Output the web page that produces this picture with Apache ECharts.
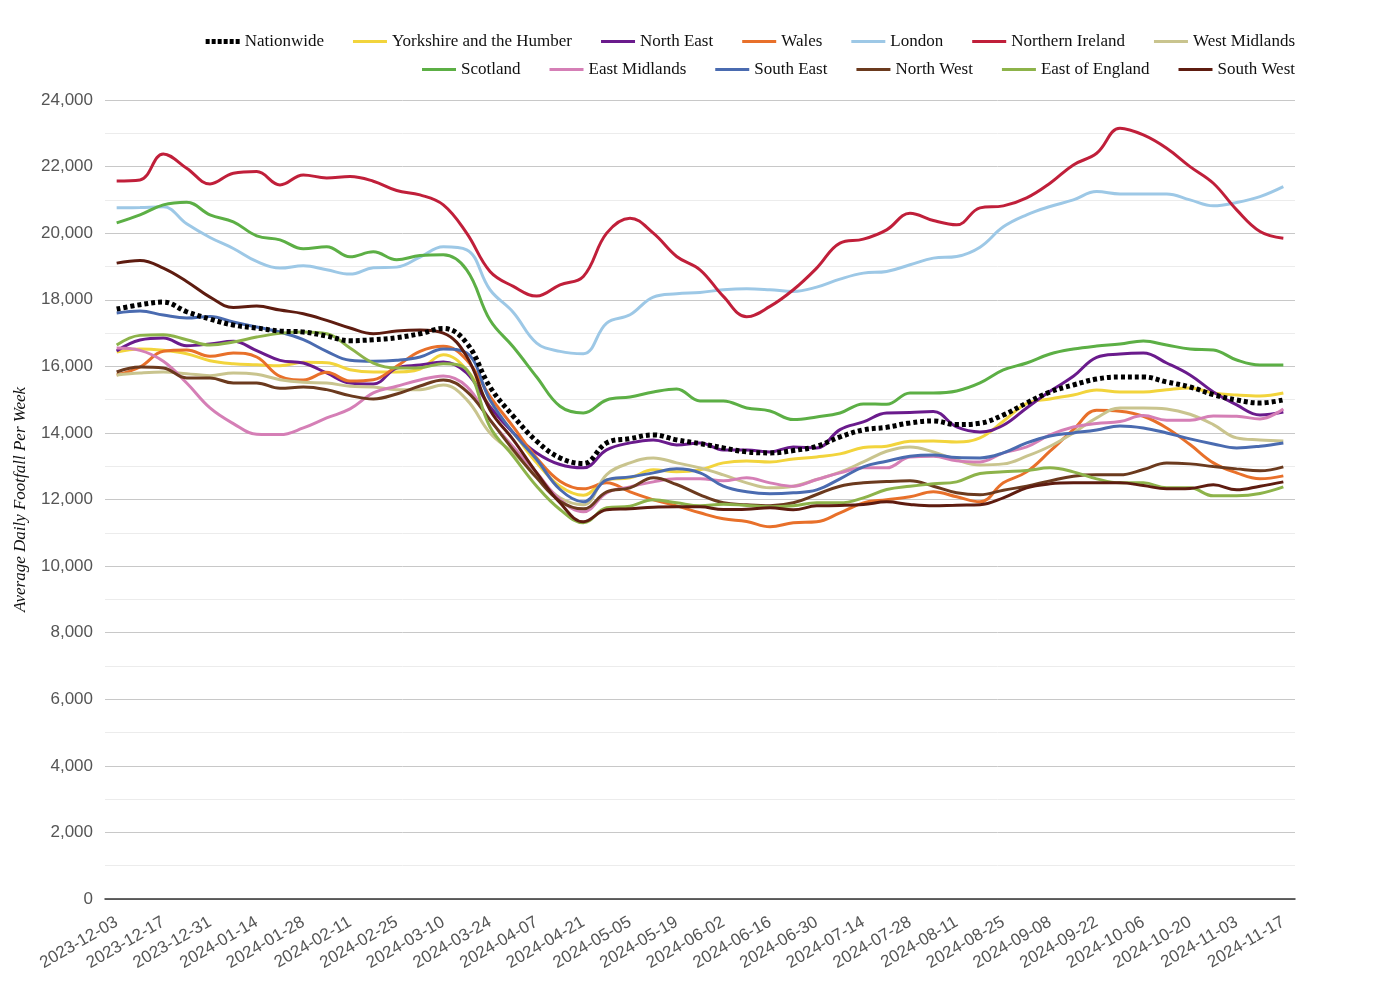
<!DOCTYPE html>
<html>
<head>
<meta charset="utf-8">
<script src="https://cdn.jsdelivr.net/npm/echarts@6/dist/echarts.min.js"></script>
<style>html,body{margin:0;padding:0;background:#fff;}#c{width:1400px;height:1000px;}</style>
</head>
<body>
<div id="c"></div>
<script>
var weeks = ["2023-12-03","2023-12-10","2023-12-17","2023-12-24","2023-12-31","2024-01-07","2024-01-14","2024-01-21","2024-01-28","2024-02-04","2024-02-11","2024-02-18","2024-02-25","2024-03-03","2024-03-10","2024-03-17","2024-03-24","2024-03-31","2024-04-07","2024-04-14","2024-04-21","2024-04-28","2024-05-05","2024-05-12","2024-05-19","2024-05-26","2024-06-02","2024-06-09","2024-06-16","2024-06-23","2024-06-30","2024-07-07","2024-07-14","2024-07-21","2024-07-28","2024-08-04","2024-08-11","2024-08-18","2024-08-25","2024-09-01","2024-09-08","2024-09-15","2024-09-22","2024-09-29","2024-10-06","2024-10-13","2024-10-20","2024-10-27","2024-11-03","2024-11-10","2024-11-17"];

var nationwide = [17720,17850,17930,17640,17420,17240,17150,17060,17030,16910,16770,16800,16860,16980,17140,16700,15380,14500,13750,13250,13080,13700,13830,13940,13790,13680,13550,13430,13400,13470,13600,13880,14090,14170,14300,14360,14250,14290,14540,14900,15230,15440,15620,15680,15680,15530,15380,15150,14990,14900,14990];
var yorkshire = [16430,16520,16480,16380,16170,16080,16050,16020,16120,16110,15900,15830,15830,15920,16350,15900,14800,14000,13100,12400,12130,12590,12650,12890,12830,12890,13100,13160,13130,13220,13280,13370,13560,13600,13750,13760,13730,13850,14350,14880,15020,15140,15290,15230,15230,15300,15350,15200,15140,15110,15200];
var northEast = [16460,16790,16850,16620,16670,16750,16470,16180,16100,15800,15500,15470,15950,16040,16130,15800,14780,14000,13400,13050,12950,13490,13700,13790,13640,13700,13490,13490,13430,13580,13550,14100,14330,14600,14610,14640,14180,14030,14230,14750,15250,15700,16270,16370,16400,16100,15740,15230,14840,14540,14630];
var wales = [15740,15980,16450,16490,16300,16400,16280,15700,15590,15820,15560,15600,16000,16450,16600,16190,15100,14180,13250,12550,12320,12500,12230,11990,11810,11600,11420,11340,11180,11300,11330,11600,11900,11990,12080,12230,12080,11930,12500,12830,13450,14100,14680,14650,14500,14150,13650,13100,12800,12620,12710];
var london = [20760,20770,20790,20280,19870,19540,19150,18950,19020,18900,18770,18960,18980,19280,19590,19500,18300,17620,16700,16450,16380,17300,17550,18080,18180,18220,18300,18330,18300,18250,18380,18620,18800,18850,19050,19250,19300,19580,20190,20550,20800,21000,21250,21180,21180,21180,21000,20820,20920,21100,21400];
var northernIreland = [21570,21600,22380,21950,21480,21800,21850,21450,21750,21660,21700,21560,21280,21150,20850,20000,18850,18400,18110,18450,18700,20000,20450,20000,19300,18900,18100,17490,17800,18300,18950,19700,19820,20100,20600,20380,20250,20760,20820,21060,21500,22050,22400,23150,22950,22550,22000,21500,20700,20050,19850];
var westMidlands = [15740,15800,15830,15780,15720,15800,15760,15600,15520,15500,15400,15380,15300,15300,15440,15000,14000,13400,12700,12050,11840,12750,13100,13250,13100,12950,12740,12500,12350,12400,12600,12820,13130,13450,13580,13430,13190,13040,13070,13300,13600,14000,14450,14750,14750,14720,14560,14250,13850,13790,13760];
var scotland = [20310,20550,20850,20930,20550,20340,19920,19800,19530,19590,19290,19440,19200,19330,19350,18900,17390,16580,15680,14800,14600,14990,15080,15230,15320,14960,14960,14750,14660,14400,14480,14600,14870,14860,15200,15200,15260,15500,15890,16100,16370,16520,16610,16670,16760,16640,16520,16490,16190,16040,16040];
var eastMidlands = [16550,16480,16150,15500,14750,14280,13960,13950,14150,14450,14720,15200,15400,15590,15710,15400,14390,13580,12800,12000,11630,12200,12380,12530,12620,12620,12560,12650,12500,12400,12600,12800,12950,12950,13280,13300,13160,13130,13400,13580,13940,14180,14280,14340,14520,14380,14380,14510,14500,14420,14720];
var southEast = [17600,17660,17540,17450,17500,17330,17180,17030,16800,16450,16180,16150,16180,16280,16520,16400,14990,14000,13200,12300,11930,12590,12680,12800,12920,12800,12400,12230,12170,12200,12290,12620,12980,13150,13300,13340,13260,13250,13400,13700,13910,14000,14090,14210,14150,14000,13820,13670,13550,13600,13700];
var northWest = [15830,15980,15950,15650,15650,15500,15500,15340,15380,15300,15120,15020,15170,15410,15590,15250,14390,13490,12650,11950,11720,12230,12350,12650,12450,12140,11900,11840,11810,11900,12150,12400,12500,12540,12560,12400,12200,12140,12280,12400,12560,12700,12740,12740,12900,13100,13070,12990,12920,12860,12980];
var eastOfEngland = [16640,16930,16950,16800,16640,16730,16880,16990,17030,16980,16550,16100,15950,15960,16080,15900,14180,13300,12400,11700,11300,11750,11800,11990,11900,11810,11860,11820,11780,11810,11900,11900,12050,12300,12400,12470,12530,12780,12830,12870,12950,12830,12620,12500,12500,12350,12350,12110,12110,12180,12380];
var southWest = [19100,19180,18950,18550,18080,17770,17810,17690,17580,17380,17150,16980,17060,17090,17000,16300,14690,13790,12800,11900,11330,11690,11720,11770,11780,11780,11700,11710,11750,11690,11810,11820,11850,11930,11850,11810,11830,11840,12050,12350,12470,12500,12500,12500,12420,12320,12330,12440,12290,12400,12530];

var legendRow1 = ["Nationwide","Yorkshire and the Humber","North East","Wales","London","Northern Ireland","West Midlands"];
var legendRow2 = ["Scotland","East Midlands","South East","North West","East of England","South West"];

var seriesDefs = [
  {name:"Yorkshire and the Humber", data:yorkshire, color:"#F2D43C"},
  {name:"North East", data:northEast, color:"#6A1B8C"},
  {name:"Wales", data:wales, color:"#E8702A"},
  {name:"London", data:london, color:"#9DC8E6"},
  {name:"Northern Ireland", data:northernIreland, color:"#C01F3A"},
  {name:"West Midlands", data:westMidlands, color:"#C9C48E"},
  {name:"Scotland", data:scotland, color:"#5CAF45"},
  {name:"East Midlands", data:eastMidlands, color:"#D57FB6"},
  {name:"South East", data:southEast, color:"#4A6BB0"},
  {name:"North West", data:northWest, color:"#6B3A1E"},
  {name:"East of England", data:eastOfEngland, color:"#8DB34A"},
  {name:"South West", data:southWest, color:"#5E1C10"},
  {name:"Nationwide", data:nationwide, color:"#000000", dotted:true}
];

var series = seriesDefs.map(function(s){
  return {
    name: s.name, type: 'line', data: s.data, smooth: 0.4, symbol: 'none',
    color: s.color,
    lineStyle: s.dotted ? {color:s.color, width:5, type:[4,3]} : {color:s.color, width:3},
    emphasis: {disabled:true}
  };
});

var dottedIcon = 'path://M0,0h4v5h-4z M6,0h4v5h-4z M12,0h4v5h-4z M18,0h4v5h-4z M24,0h4v5h-4z M30,0h4v5h-4z';
var lineIcon = 'path://M0,0L0,0M0,1h34v3h-34zM34,5L34,5';
function legendItems(names){
  return names.map(function(n){
    return n === 'Nationwide' ? {name:n, icon:dottedIcon, itemStyle:{color:'#000'}} : {name:n, icon:lineIcon};
  });
}

var legendText = {fontFamily:'"Liberation Serif", "Times New Roman", serif', fontSize:17, color:'#111'};
var legendCommon = {right: 105, padding: 0, itemWidth: 34, itemHeight: 5, itemGap: 29, textStyle: legendText, selectedMode: false};
var chart = echarts.init(document.getElementById('c'));
chart.setOption({
  animation: false,
  backgroundColor: '#fff',
  legend: [
    Object.assign({data: legendItems(legendRow1), top: 33}, legendCommon),
    Object.assign({data: legendItems(legendRow2), top: 61}, legendCommon)
  ],
  grid: {left: 105, right: 105, top: 100, bottom: 101, outerBoundsMode: 'none', containLabel: false},
  xAxis: {
    type: 'category', data: weeks, boundaryGap: true,
    axisLine: {lineStyle: {color: '#333', width: 1.5}},
    axisTick: {show: false},
    axisLabel: {interval: 1, rotate: 30, color: '#555', fontSize: 17, fontFamily: '"Liberation Sans", Arial, sans-serif', margin: 22}
  },
  yAxis: {
    type: 'value', min: 0, max: 24000, interval: 2000,
    name: 'Average Daily Footfall Per Week', nameLocation: 'middle', nameGap: 76,
    nameTextStyle: {fontFamily: '"Liberation Serif", "Times New Roman", serif', fontStyle: 'italic', fontSize: 17, color: '#111'},
    axisLine: {show: false},
    axisTick: {show: false},
    axisLabel: {color: '#555', fontSize: 17, fontFamily: '"Liberation Sans", Arial, sans-serif', margin: 12,
      formatter: function(v){ return v.toLocaleString('en-US'); }},
    splitLine: {lineStyle: {color: '#c8c8c8', width: 1}},
    minorTick: {show: false, splitNumber: 2},
    minorSplitLine: {show: true, lineStyle: {color: '#ececec', width: 1}}
  },
  series: series
});
</script>
</body>
</html>
